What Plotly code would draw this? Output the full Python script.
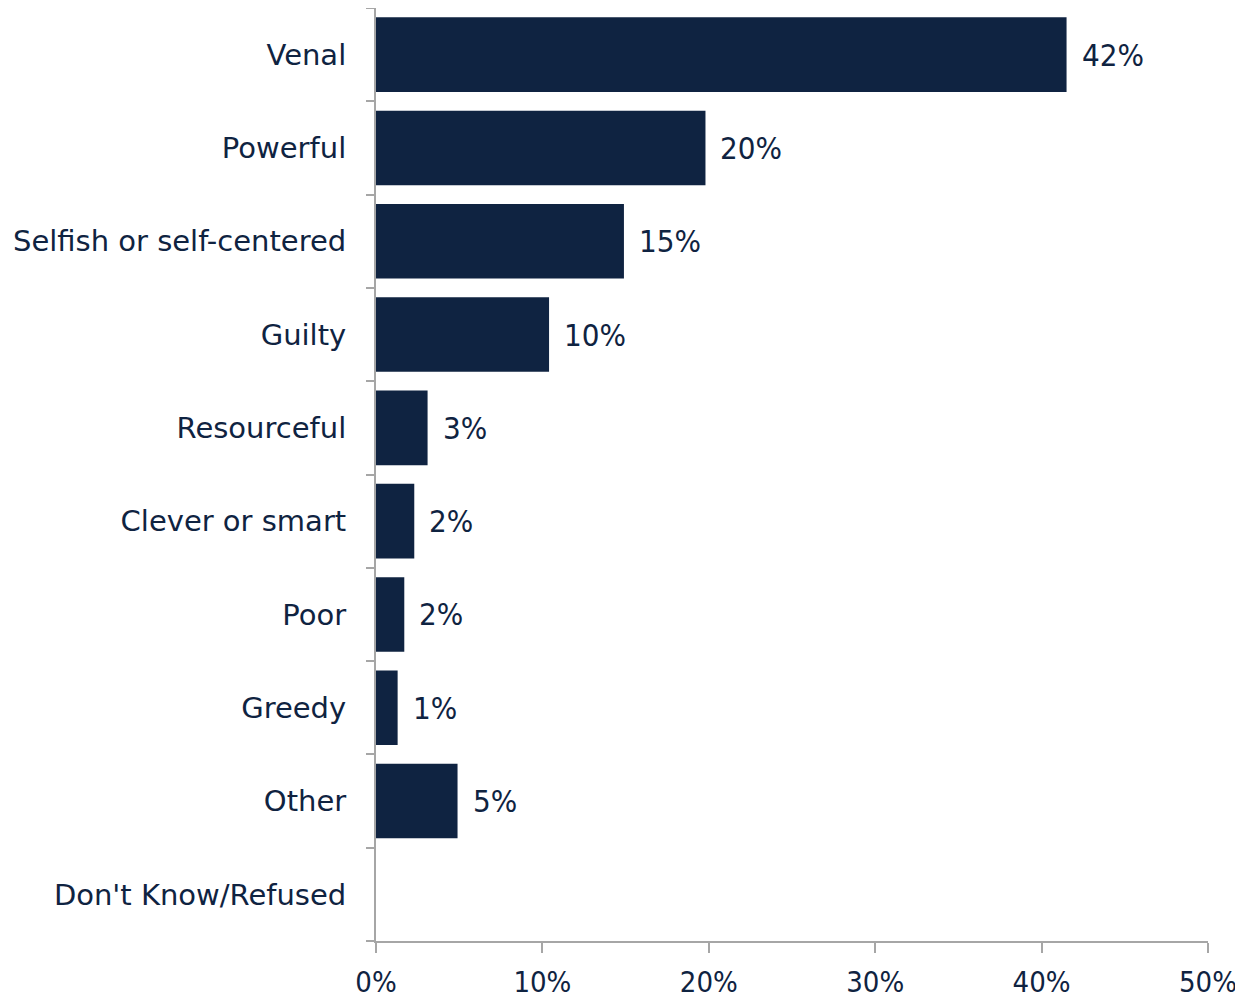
import plotly.graph_objects as go

categories = [
    "Venal", "Powerful", "Selfish or self-centered", "Guilty", "Resourceful",
    "Clever or smart", "Poor", "Greedy", "Other", "Don't Know/Refused",
]
values = [41.5, 19.8, 14.9, 10.4, 3.1, 2.3, 1.7, 1.3, 4.9, 0]
labels = ["42%", "20%", "15%", "10%", "3%", "2%", "2%", "1%", "5%", ""]
x_ticks = [0, 10, 20, 30, 40, 50]
x_tick_text = ["0%", "10%", "20%", "30%", "40%", "50%"]

NAVY = "#0f2341"
GRID = "#a6a6a6"
FONT = "DejaVu Sans, sans-serif"
NUM_FONT = "DejaVu Sans Condensed, DejaVu Sans, sans-serif"

fig = go.Figure()
fig.add_trace(go.Bar(
    x=values,
    y=categories,
    orientation='h',
    width=0.8,
    marker=dict(color=NAVY, line=dict(width=0)),
    hoverinfo='skip',
))

# value labels to the right of each bar
for cat, val, lab in zip(categories, values, labels):
    if lab:
        fig.add_annotation(
            x=val, y=cat, text=lab, showarrow=False,
            xanchor='left', xshift=13,
            font=dict(size=31, color=NAVY, family=NUM_FONT),
        )

fig.update_layout(
    width=1235,
    height=990,
    margin=dict(l=368, r=35, t=0, b=57),
    plot_bgcolor='white',
    paper_bgcolor='white',
    showlegend=False,
    font=dict(family=FONT, color=NAVY, size=28),
    bargap=0.2,
)
fig.update_xaxes(
    range=[0, 50],
    tickvals=x_ticks,
    ticktext=x_tick_text,
    showgrid=False,
    zeroline=False,
    showline=True,
    linecolor=GRID,
    linewidth=2,
    ticks='outside',
    ticklen=10,
    tickwidth=2,
    tickcolor=GRID,
    tickfont=dict(size=29, color=NAVY, family=NUM_FONT),
    ticklabelstandoff=4,
)
fig.update_yaxes(
    categoryorder='array',
    categoryarray=categories[::-1],
    showgrid=False,
    showline=True,
    linecolor=GRID,
    linewidth=2,
    ticks='outside',
    tickson='boundaries',
    ticklen=8,
    tickwidth=2,
    tickcolor=GRID,
    tickfont=dict(size=29, color=NAVY, family=FONT),
    ticklabelstandoff=22,
)

fig.write_html("out.html")
